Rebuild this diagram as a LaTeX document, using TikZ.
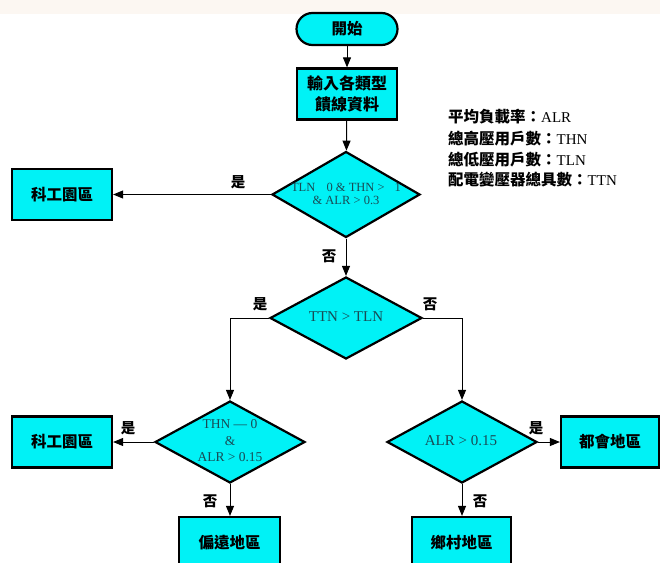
\documentclass[tikz,border=0pt]{standalone}
\usepackage{fontspec}
\setmainfont{Liberation Serif}
\newfontfamily\cjk{Noto Sans CJK TC}
\usetikzlibrary{arrows.meta,shapes.geometric}
\definecolor{boxcyan}{RGB}{0,242,246}
\definecolor{dtxt}{RGB}{25,75,85}
\definecolor{band}{RGB}{252,247,242}
\tikzset{
  boxnode/.style={draw=black,line width=2.2pt,fill=boxcyan,minimum width=100pt,minimum height=51pt,inner sep=0pt,align=center,font=\cjk\bfseries\fontsize{15.5}{19}\selectfont},
  decnode/.style={diamond,draw=black,line width=2.2pt,fill=boxcyan,inner sep=0pt,minimum width=150pt,minimum height=82pt},
  dtext/.style={text=dtxt,align=center,inner sep=0pt,font=\fontsize{13}{15}\selectfont},
  lbl/.style={inner sep=0pt,font=\cjk\bfseries\fontsize{14.5}{17}\selectfont},
  legend/.style={anchor=west,inner sep=0pt,font=\fontsize{15}{18}\selectfont},
  conn/.style={draw=black,line width=1pt,-{Triangle[length=10pt,width=8pt]}}
}
\begin{document}
\begin{tikzpicture}[x=1pt,y=-1pt]
\clip (0,0) rectangle (660,562);
\fill[white] (0,0) rectangle (660,562);
\fill[band] (0,0) rectangle (660,14);

% nodes
\node[boxnode,rounded corners=16pt,minimum width=101pt,minimum height=32pt] (start) at (347,29) {開始};
\node[boxnode,font=\cjk\bfseries\fontsize{16}{21}\selectfont] (input) at (347,94) {輸入各類型\\饋線資料};

\node[decnode,minimum width=148pt,minimum height=86pt] (d1) at (346,194.5) {};
\node[dtext,font=\fontsize{12.5}{14.5}\selectfont] (d1t) at (346,194) {TLN\hspace{0.9em}0 \& THN >\hspace{0.8em}1\\[-1pt]\& ALR > 0.3};

\node[decnode,minimum width=152pt] (d2) at (346,318) {};
\node[dtext,font=\fontsize{15}{18}\selectfont] (d2t) at (346,317) {TTN > TLN};

\node[decnode] (d3) at (230,442) {};
\node[dtext,font=\fontsize{13.5}{16.5}\selectfont] (d3t) at (230,441) {THN — 0\\\&\\ALR > 0.15};

\node[decnode] (d4) at (462,442) {};
\node[dtext,font=\fontsize{15}{18}\selectfont] (d4t) at (461,441) {ALR > 0.15};

\node[boxnode] (k1) at (62,194.5) {科工園區};
\node[boxnode] (k2) at (62,442) {科工園區};
\node[boxnode,minimum width=101pt,minimum height=52pt] (remote) at (229.5,543) {偏遠地區};
\node[boxnode,minimum width=99pt,minimum height=52pt] (rural) at (461.5,543) {鄉村地區};
\node[boxnode,minimum width=98pt] (metro) at (610,442) {都會地區};

% connectors
\draw[conn] (start) -- (input);
\draw[conn] (input) -- (d1);
\draw[conn] (d1.west) -- (d1.west -| k1.east);
\draw[conn] (d1.south) -- (d2.north);
\draw[conn] (d2.west) -| (d3.north);
\draw[conn] (d2.east) -| (d4.north);
\draw[conn] (d3.west) -- (d3.west -| k2.east);
\draw[conn] (d3.south) -- (d3.south |- remote.north);
\draw[conn] (d4.east) -- (d4.east -| metro.west);
\draw[conn] (d4.south) -- (d4.south |- rural.north);

% labels
\node[lbl] (l1) at (238,182) {是};
\node[lbl] (l2) at (329,256) {否};
\node[lbl] (l3) at (260,304) {是};
\node[lbl] (l4) at (430,304) {否};
\node[lbl] (l5) at (128,428) {是};
\node[lbl] (l6) at (210,501) {否};
\node[lbl] (l7) at (536,428) {是};
\node[lbl] (l8) at (480,501) {否};

% legend
\node[legend] (g1) at (448,117) {{\cjk\bfseries\fontsize{15.5}{18}\selectfont 平均負載率：}ALR};
\node[legend] (g2) at (448,139) {{\cjk\bfseries\fontsize{15.5}{18}\selectfont 總高壓用戶數：}THN};
\node[legend] (g3) at (448,160) {{\cjk\bfseries\fontsize{15.5}{18}\selectfont 總低壓用戶數：}TLN};
\node[legend] (g4) at (448,180) {{\cjk\bfseries\fontsize{15.5}{18}\selectfont 配電變壓器總具數：}TTN};
\end{tikzpicture}
\end{document}
